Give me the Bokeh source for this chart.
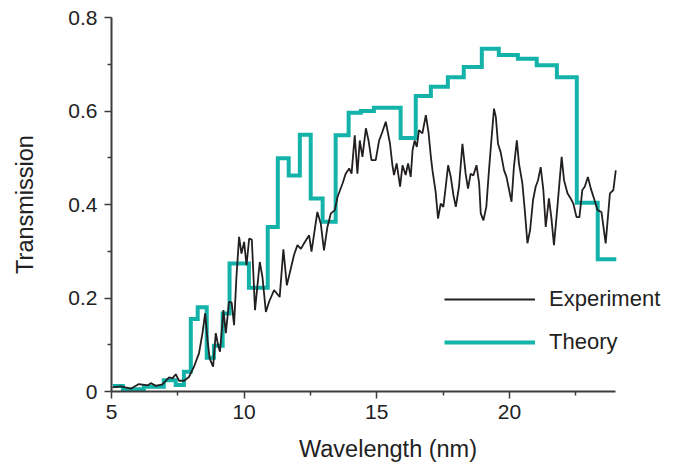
import numpy as np
from bokeh.plotting import figure
from bokeh.models import Range1d, FixedTicker, Legend, LegendItem
from bokeh.embed import file_html
from bokeh.resources import INLINE

# Experiment (wavelength nm, transmission)
exp_x = [5.04, 5.35, 5.73, 6.03, 6.37, 6.48, 6.67, 6.92, 7.17, 7.30, 7.42, 7.55, 7.74, 7.92,
         8.11, 8.30, 8.43, 8.53, 8.62, 8.70, 8.83, 8.93, 9.02, 9.09, 9.22, 9.31, 9.43, 9.53,
         9.62, 9.71, 9.81, 9.90, 10.00, 10.09, 10.19, 10.29, 10.41, 10.59, 10.69, 10.82, 10.94,
         11.13, 11.34, 11.48, 11.61, 11.76, 11.88, 12.01, 12.14, 12.26, 12.45, 12.54, 12.76,
         12.89, 13.01, 13.14, 13.27, 13.42, 13.52, 13.71, 13.83, 13.96, 14.05, 14.17, 14.27,
         14.36, 14.46, 14.59, 14.69, 14.80, 14.96, 15.09, 15.21, 15.34, 15.50, 15.59, 15.65,
         15.75, 15.88, 15.97, 16.09, 16.18, 16.28, 16.35, 16.43, 16.51, 16.59, 16.72, 16.85,
         16.95, 17.04, 17.10, 17.22, 17.31, 17.41, 17.51, 17.60, 17.69, 17.79, 17.89, 17.98,
         18.10, 18.23, 18.35, 18.44, 18.54, 18.64, 18.76, 18.86, 18.92, 19.02, 19.13, 19.23,
         19.32, 19.42, 19.49, 19.57, 19.67, 19.80, 19.89, 19.99, 20.08, 20.17, 20.28, 20.36,
         20.49, 20.58, 20.68, 20.78, 20.89, 20.99, 21.08, 21.18, 21.28, 21.37, 21.49, 21.58,
         21.68, 21.81, 21.97, 22.06, 22.19, 22.31, 22.41, 22.53, 22.64, 22.75, 22.84, 22.96,
         23.07, 23.19, 23.32, 23.47, 23.63, 23.79, 23.92, 24.01]
exp_y = [0.009, 0.011, 0.006, 0.016, 0.013, 0.018, 0.012, 0.015, 0.030, 0.028, 0.037, 0.023, 0.023, 0.031,
         0.053, 0.082, 0.125, 0.167, 0.110, 0.071, 0.053, 0.125, 0.099, 0.085, 0.174, 0.125, 0.192, 0.190,
         0.142, 0.245, 0.331, 0.295, 0.320, 0.270, 0.327, 0.325, 0.174, 0.277, 0.245, 0.170, 0.192,
         0.217, 0.202, 0.304, 0.227, 0.263, 0.292, 0.313, 0.305, 0.317, 0.334, 0.299, 0.384,
         0.359, 0.302, 0.352, 0.381, 0.388, 0.416, 0.445, 0.466, 0.477, 0.466, 0.548, 0.466,
         0.537, 0.502, 0.563, 0.537, 0.495, 0.495, 0.537, 0.555, 0.577, 0.530, 0.484, 0.463,
         0.488, 0.438, 0.484, 0.463, 0.488, 0.459, 0.516, 0.537, 0.523, 0.559, 0.552, 0.591,
         0.555, 0.502, 0.473, 0.427, 0.370, 0.402, 0.395, 0.438, 0.484, 0.459, 0.420, 0.395,
         0.438, 0.530, 0.466, 0.434, 0.466, 0.462, 0.484, 0.445, 0.381, 0.366, 0.395, 0.473,
         0.537, 0.605, 0.587, 0.530, 0.512, 0.473, 0.459, 0.431, 0.406, 0.480, 0.537, 0.488,
         0.445, 0.388, 0.317, 0.345, 0.409, 0.438, 0.452, 0.480, 0.431, 0.352, 0.413, 0.373,
         0.313, 0.395, 0.502, 0.452, 0.424, 0.413, 0.402, 0.373, 0.373, 0.431, 0.438, 0.459,
         0.434, 0.413, 0.388, 0.384, 0.317, 0.424, 0.431, 0.473]

# Theory: bin edges (nm) and levels
theory_edges = [5.05, 5.43, 6.22, 6.97, 7.42, 7.73, 7.99, 8.25, 8.59, 8.86, 9.19, 9.45, 10.18,
                10.89, 11.27, 11.68, 12.10, 12.51, 12.96, 13.45, 13.94, 14.40, 14.89, 15.90,
                16.47, 17.04, 17.68, 18.28, 18.96, 19.60, 20.32, 21.03, 21.79, 22.54, 23.33, 24.03]
theory_levels = [0.012, 0.005, 0.010, 0.024, 0.014, 0.042, 0.155, 0.180, 0.072, 0.098, 0.167,
                 0.274, 0.222, 0.352, 0.499, 0.462, 0.549, 0.413, 0.363, 0.548, 0.596, 0.600,
                 0.607, 0.542, 0.632, 0.652, 0.672, 0.694, 0.733, 0.720, 0.712, 0.698, 0.672,
                 0.404, 0.283]

x_major = [5, 10, 15, 20]
x_minor = [7.5, 12.5, 17.5, 22.5]
x_axis_end = 24
y_major = [0, 0.2, 0.4, 0.6, 0.8]
y_minor = [0.1, 0.3, 0.5, 0.7]
y_labels = {0: "0", 0.2: "0.2", 0.4: "0.4", 0.6: "0.6", 0.8: "0.8"}

TEAL = "#13B3A9"
BLACK = "#231F20"
AXIS = "#3C3C3C"
FONT = "Liberation Sans"

e = np.asarray(theory_edges)
lv = np.asarray(theory_levels)
tx = np.repeat(e, 2)[1:-1]
ty = np.repeat(lv, 2)

# frame extended to the right (past the axis end) so the legend text is not clipped
FW_AXIS = 504
FW = 553
x_end = 5 + (x_axis_end - 5) * FW / FW_AXIS

p = figure(frame_width=FW, frame_height=374, output_backend="svg", toolbar_location=None,
           x_range=Range1d(5, x_end), y_range=Range1d(0, 0.8),
           min_border_left=111, min_border_right=5, min_border_top=17, min_border_bottom=70)
p.outline_line_color = None
p.xgrid.grid_line_color = None
p.ygrid.grid_line_color = None
p.background_fill_color = "white"
p.border_fill_color = "white"

r_th = p.line(tx, ty, line_color=TEAL, line_width=4, line_join="miter")
r_ex = p.line(exp_x, exp_y, line_color=BLACK, line_width=1.8)

for ax in (p.xaxis[0], p.yaxis[0]):
    ax.axis_line_color = AXIS
    ax.axis_line_width = 2
    ax.major_tick_line_color = AXIS
    ax.minor_tick_line_color = AXIS
    ax.major_tick_line_width = 1.5
    ax.minor_tick_line_width = 1.5
    ax.major_tick_in = 0
    ax.major_tick_out = 7
    ax.minor_tick_in = 0
    ax.minor_tick_out = 4
    ax.major_label_text_font = FONT
    ax.major_label_text_font_size = "21px"
    ax.major_label_text_color = "#222222"
    ax.axis_label_text_font = FONT
    ax.axis_label_text_font_size = "23.5px"
    ax.axis_label_text_font_style = "normal"
    ax.axis_label_text_color = "#222222"

p.xaxis.bounds = (5, x_axis_end)
p.xaxis.ticker = FixedTicker(ticks=x_major, minor_ticks=x_minor)
p.yaxis.ticker = FixedTicker(ticks=y_major, minor_ticks=y_minor)
p.yaxis.major_label_overrides = y_labels
p.xaxis.axis_label = "Wavelength (nm)"
p.yaxis.axis_label = "Transmission"
p.xaxis.major_label_standoff = 6
p.yaxis.major_label_standoff = 7
p.xaxis.axis_label_standoff = 14
p.yaxis.axis_label_standoff = 27

legend = Legend(items=[LegendItem(label="Experiment", renderers=[r_ex]),
                       LegendItem(label="Theory", renderers=[r_th])],
                location=(333, 36), glyph_width=91, glyph_height=20, label_height=20,
                spacing=17, label_standoff=14, padding=0, margin=0,
                border_line_color=None, background_fill_alpha=0,
                label_text_font=FONT, label_text_font_size="22px", label_text_color="#222222")
p.add_layout(legend)

open("out.html", "w").write(file_html(p, INLINE))
